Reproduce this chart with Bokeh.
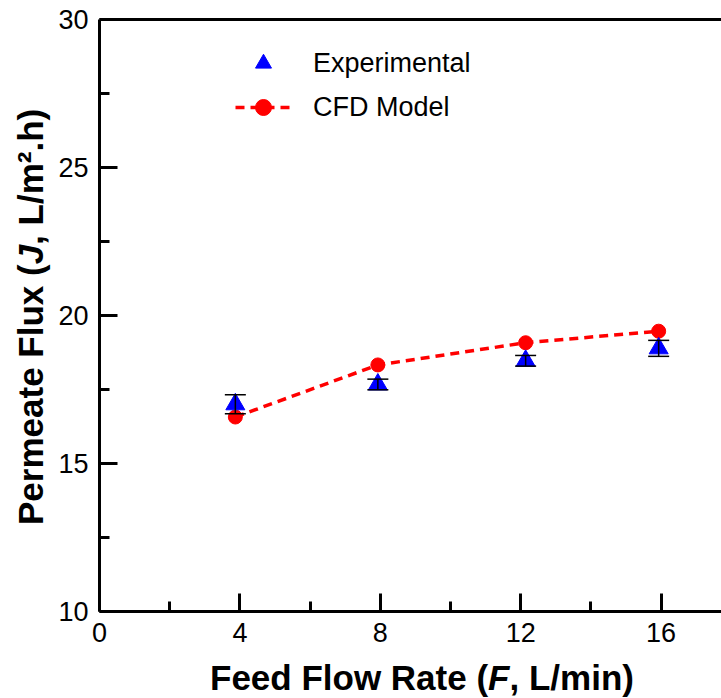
from bokeh.plotting import figure
from bokeh.models import (Range1d, LinearAxis, FixedTicker, Whisker, TeeHead,
                          ColumnDataSource, Legend, LegendItem, Div)
from bokeh.layouts import row, column
from bokeh.embed import file_html
from bokeh.resources import INLINE

# ---- data ----
feed_rate = [3.87, 7.93, 12.14, 15.93]
exp_flux = [17.00, 17.67, 18.47, 18.89]
exp_err = [0.32, 0.18, 0.18, 0.27]
cfd_flux = [16.57, 18.33, 19.08, 19.47]
x_ticks = [0, 4, 8, 12, 16]
x_minor = [2, 6, 10, 14]
y_ticks = [10, 15, 20, 25, 30]
y_minor = [12.5, 17.5, 22.5, 27.5]
x_title = ("Feed Flow Rate (", "F", ", L/min)")
y_title = ("Permeate Flux (", "J", ", L/m\u00b2.h)")

FONT = "Liberation Sans"
YDIV_W = 52
XDIV_H = 36
FIG_H = 698 - XDIV_H          # 662
FRAME_BOTTOM = 611

p = figure(width=721 - YDIV_W, height=FIG_H, output_backend="svg", toolbar_location=None,
           x_range=Range1d(0, 17.72), y_range=Range1d(10, 30),
           x_axis_location=None, y_axis_location=None,
           min_border_left=99 - YDIV_W, min_border_right=0, min_border_top=19,
           min_border_bottom=FIG_H - FRAME_BOTTOM,
           margin=0)
p.outline_line_color = None
p.xgrid.visible = False
p.ygrid.visible = False
p.background_fill_color = "white"
p.border_fill_color = "white"

def style_axis(ax, ticks, minor):
    ax.ticker = FixedTicker(ticks=ticks, minor_ticks=minor)
    ax.axis_line_width = 3
    ax.axis_line_color = "black"
    ax.major_tick_line_width = 3
    ax.minor_tick_line_width = 3
    ax.major_tick_in = 18
    ax.major_tick_out = 0
    ax.minor_tick_in = 10
    ax.minor_tick_out = 0
    ax.major_label_text_font = FONT
    ax.major_label_text_font_size = "27px"
    ax.major_label_text_color = "black"
    ax.major_label_standoff = 11

xaxis = LinearAxis()
style_axis(xaxis, x_ticks, x_minor)
p.add_layout(xaxis, "below")

yaxis = LinearAxis()
style_axis(yaxis, y_ticks, y_minor)
p.add_layout(yaxis, "left")

top = LinearAxis()
top.axis_line_width = 3
top.major_tick_line_color = None
top.minor_tick_line_color = None
top.major_label_text_font_size = "0px"
top.major_label_text_color = None
p.add_layout(top, "above")

# ---- glyphs ----
line = p.line(feed_rate, cfd_flux, line_color="#FF0000", line_width=3.5, line_dash="9 6")
circ = p.scatter(feed_rate, cfd_flux, marker="circle", size=14,
                 fill_color="#FF0000", line_color="#FF0000")
tri = p.scatter(feed_rate, exp_flux, marker="triangle", size=19,
                fill_color="#0000FF", line_color="#0000FF")

src = ColumnDataSource(dict(x=feed_rate,
                            upper=[v + e for v, e in zip(exp_flux, exp_err)],
                            lower=[v - e for v, e in zip(exp_flux, exp_err)]))
wh = Whisker(source=src, base="x", upper="upper", lower="lower",
             line_color="black", line_width=1.5, level="overlay",
             upper_head=TeeHead(size=21, line_width=1.5, line_color="black"),
             lower_head=TeeHead(size=21, line_width=1.5, line_color="black"))
p.add_layout(wh)

legend = Legend(items=[LegendItem(label="Experimental", renderers=[tri]),
                       LegendItem(label="CFD Model", renderers=[line, circ])],
                location=(136, 484), orientation="vertical",
                glyph_width=56, glyph_height=40, spacing=4, padding=0, margin=0,
                label_standoff=22, label_text_font=FONT, label_text_font_size="27px",
                label_text_color="black",
                border_line_color=None, background_fill_alpha=0)
p.add_layout(legend)

# ---- axis titles (mixed italic) as HTML text ----
font_css = ("font-family:'Liberation Sans',Arial,sans-serif;font-weight:bold;"
            "font-size:35px;line-height:40px;color:black;white-space:nowrap;")
xdiv = Div(width=721 - YDIV_W, height=XDIV_H, margin=0,
           text=(f'<div style="{font_css}padding-left:{210 - YDIV_W}px;'
                 f'position:relative;top:-4px;">'
                 f'{x_title[0]}<i>{x_title[1]}</i>{x_title[2]}</div>'))
ydiv = Div(width=YDIV_W, height=698, margin=0,
           text=(f'<div style="position:relative;width:{YDIV_W}px;height:698px;">'
                 f'<div style="position:absolute;left:11px;top:525px;transform-origin:0 0;'
                 f'transform:rotate(-90deg);{font_css}">'
                 f'{y_title[0]}<i>{y_title[1]}</i>{y_title[2]}</div></div>'))

layout = row(ydiv, column(p, xdiv, spacing=0), spacing=0)
open("out.html", "w").write(file_html(layout, INLINE))
